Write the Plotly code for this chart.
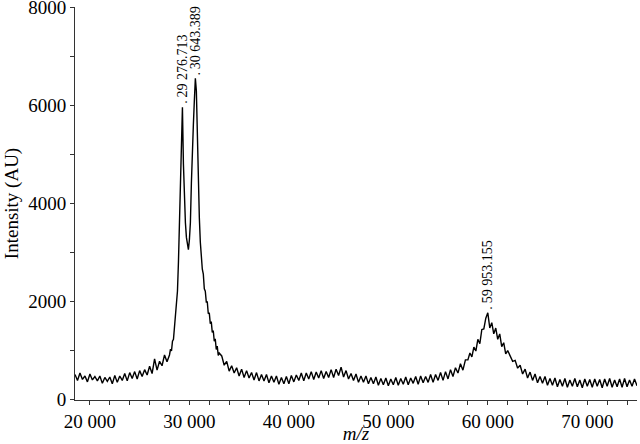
import numpy as np
import plotly.graph_objects as go

# m/z sampling grid, denser around the big peaks
mz_a = list(range(18500, 28000, 250))
mz_b = list(range(28000, 33100, 100))
mz_c = list(range(33250, 58000, 250))
mz_d = list(range(58000, 62100, 200))
mz_e = list(range(62250, 75100, 250))

int_a = [500, 380, 530, 400, 470, 350, 510, 390, 460, 370,
         470, 320, 440, 360, 450, 310, 480, 340, 470, 380,
         520, 370, 540, 420, 560, 410, 580, 460, 600, 490,
         670, 520, 820, 590, 770, 680, 900, 760]
int_b = [900, 1020, 980, 1180, 1220, 1480, 1620, 1830, 2200, 2800,
         3600, 4400, 5300, 5960, 4800, 4100, 3600, 3300, 3150, 3050,
         3250, 3600, 4400, 5300, 5600, 6100, 6550, 6300, 5200, 4300,
         3700, 3200, 2900, 2650, 2550, 2250, 2200, 1980, 1980, 1740,
         1760, 1540, 1580, 1360, 1400, 1180, 1230, 1010, 1080, 890,
         940]
int_c = [880, 690, 770, 570, 680, 530, 640, 470, 610, 440,
         580, 430, 540, 390, 540, 370, 500, 370, 500, 330,
         470, 340, 470, 300, 440, 310, 460, 310, 480, 350,
         490, 380, 530, 370, 530, 410, 560, 400, 550, 430,
         580, 420, 560, 440, 600, 440, 610, 480, 650, 450,
         580, 410, 520, 380, 510, 340, 470, 340, 470, 310,
         440, 310, 450, 280, 420, 290, 430, 270, 410, 290,
         440, 280, 420, 300, 450, 290, 430, 320, 460, 300,
         470, 330, 460, 340, 500, 340, 500, 380, 540, 380,
         560, 410, 600, 460, 640, 530, 720, 590, 800]
int_d = [800, 940, 860, 1060, 980, 1220, 1130, 1420, 1430, 1650,
         1760, 1450, 1560, 1330, 1450, 1220, 1330, 1070, 1150, 920,
         990]
int_e = [890, 770, 790, 630, 690, 510, 610, 430, 550, 380,
         510, 330, 460, 320, 460, 280, 420, 280, 430, 250,
         400, 260, 420, 240, 390, 260, 420, 250, 390, 230,
         410, 260, 400, 240, 410, 260, 400, 230, 410, 260,
         420, 240, 390, 250, 410, 240, 420, 250, 390, 260,
         410, 270]

mz = mz_a + mz_b + mz_c + mz_d + mz_e
intensity = int_a + int_b + int_c + int_d + int_e
assert len(mz) == len(intensity), (len(mz), len(intensity))

peak_mz = [29276.713, 30643.389, 59953.155]
peak_int = [5960, 6550, 1760]
peak_labels = [".\u200929 276.713", ".\u200930 643.389", ".\u200959 953.155"]

x_ticks = [20000, 30000, 40000, 50000, 60000, 70000]
x_ticktext = ["20 000", "30 000", "40 000", "50 000", "60 000", "70 000"]
y_ticks = [0, 2000, 4000, 6000, 8000]
y_ticktext = ["0", "2000", "4000", "6000", "8000"]

FONT = "Liberation Serif"
AX = "#333"

fig = go.Figure()
fig.add_trace(go.Scatter(x=mz, y=intensity, mode="lines",
                         line=dict(color="black", width=1.4), hoverinfo="skip"))

for px_, py_, lab in zip(peak_mz, peak_int, peak_labels):
    fig.add_annotation(x=px_, y=py_, text=lab, textangle=-90, showarrow=False,
                       xanchor="center", yanchor="bottom", yshift=1,
                       font=dict(family=FONT, size=14, color="black"))

fig.update_layout(
    width=640, height=444, margin=dict(l=75, r=3, t=7, b=44),
    plot_bgcolor="white", paper_bgcolor="white", showlegend=False,
    font=dict(family=FONT, size=19, color="black"))
fig.update_xaxes(range=[18500, 75000], tickvals=x_ticks, ticktext=x_ticktext, automargin=False,
                 showline=True, linecolor=AX, linewidth=1, showgrid=False, zeroline=False,
                 ticks="outside", ticklen=4, tickcolor=AX,
                 minor=dict(dtick=2000, tick0=0, ticks="outside", ticklen=4, tickcolor=AX, showgrid=False),
                 title=dict(text="<i>m/z</i>", standoff=3, font=dict(size=19)))
fig.update_yaxes(range=[-20, 8005], tickvals=y_ticks, ticktext=y_ticktext, automargin=False,
                 ticklabeloverflow="allow",
                 showline=True, linecolor=AX, linewidth=1, showgrid=False, zeroline=False,
                 ticks="outside", ticklen=4, tickcolor=AX,
                 minor=dict(dtick=1000, tick0=0, ticks="outside", ticklen=4, tickcolor=AX, showgrid=False),
                 title=dict(text="Intensity (AU)", standoff=4, font=dict(size=19)))

# page body has a default 8px margin; drop it so the figure sits at the window corner
fig.write_html("out.html", config={"displayModeBar": False},
               post_script="document.body.style.margin='0';")
